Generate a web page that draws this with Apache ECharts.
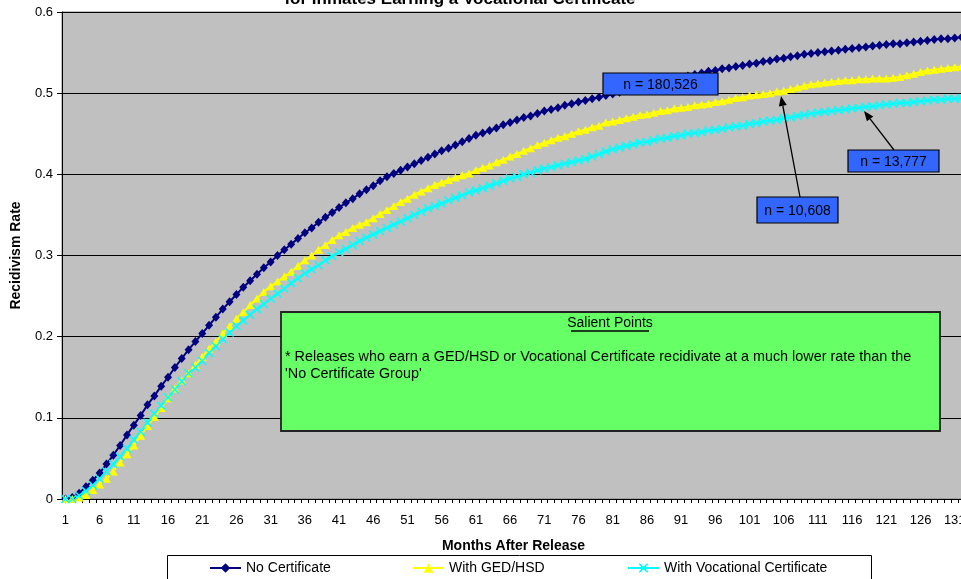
<!DOCTYPE html>
<html>
<head>
<meta charset="utf-8">
<script src="https://cdn.jsdelivr.net/npm/echarts@6/dist/echarts.min.js"></script>
<style>
  html, body { margin: 0; padding: 0; background: #fff; }
  #chart { width: 961px; height: 579px; }
</style>
</head>
<body>
<div id="chart"></div>
<script>
// Months after release (1..132)
const months = [];
for (let m = 1; m <= 132; m++) months.push(String(m));

// Cumulative recidivism rate by month
const noCertificate = [
  0, 0.002, 0.007, 0.015, 0.023, 0.032, 0.043, 0.054, 0.066, 0.079,
  0.091, 0.103, 0.116, 0.127, 0.139, 0.150, 0.162, 0.173, 0.184, 0.194,
  0.204, 0.214, 0.224, 0.234, 0.243, 0.252, 0.261, 0.269, 0.277, 0.285,
  0.292, 0.300, 0.307, 0.314, 0.321, 0.328, 0.334, 0.341, 0.347, 0.353,
  0.359, 0.365, 0.370, 0.376, 0.381, 0.386, 0.392, 0.397, 0.401, 0.405,
  0.409, 0.413, 0.417, 0.421, 0.425, 0.429, 0.432, 0.436, 0.440, 0.444,
  0.448, 0.451, 0.454, 0.457, 0.461, 0.464, 0.467, 0.470, 0.472, 0.475,
  0.478, 0.480, 0.482, 0.485, 0.487, 0.489, 0.491, 0.493, 0.495, 0.497,
  0.499, 0.501, 0.503, 0.505, 0.507, 0.509, 0.511, 0.513, 0.515, 0.517,
  0.519, 0.521, 0.523, 0.525, 0.527, 0.528, 0.530, 0.531, 0.533, 0.534,
  0.536, 0.537, 0.539, 0.540, 0.542, 0.543, 0.545, 0.546, 0.548, 0.549,
  0.550, 0.551, 0.552, 0.553, 0.554, 0.555, 0.556, 0.557, 0.558, 0.559,
  0.560, 0.561, 0.561, 0.562, 0.563, 0.564, 0.565, 0.566, 0.567, 0.567,
  0.568, 0.569
];
const withGedHsd = [
  0, 0, 0.002, 0.005, 0.011, 0.018, 0.025, 0.034, 0.045, 0.055,
  0.066, 0.078, 0.090, 0.101, 0.112, 0.124, 0.136, 0.146, 0.155, 0.165,
  0.175, 0.185, 0.194, 0.204, 0.213, 0.222, 0.230, 0.239, 0.247, 0.255,
  0.262, 0.268, 0.274, 0.280, 0.287, 0.294, 0.300, 0.307, 0.313, 0.319,
  0.325, 0.329, 0.334, 0.338, 0.341, 0.346, 0.351, 0.356, 0.361, 0.366,
  0.370, 0.375, 0.379, 0.383, 0.387, 0.390, 0.393, 0.396, 0.399, 0.401,
  0.405, 0.408, 0.411, 0.415, 0.418, 0.422, 0.425, 0.429, 0.432, 0.436,
  0.439, 0.442, 0.445, 0.447, 0.450, 0.453, 0.455, 0.458, 0.460, 0.464,
  0.465, 0.467, 0.469, 0.471, 0.473, 0.474, 0.476, 0.478, 0.479, 0.481,
  0.482, 0.483, 0.485, 0.486, 0.487, 0.489, 0.490, 0.492, 0.494, 0.495,
  0.497, 0.498, 0.499, 0.500, 0.502, 0.503, 0.505, 0.507, 0.509, 0.511,
  0.512, 0.513, 0.514, 0.515, 0.516, 0.516, 0.517, 0.517, 0.518, 0.518,
  0.518, 0.519, 0.520, 0.522, 0.524, 0.526, 0.528, 0.529, 0.530, 0.531,
  0.532, 0.533
];
const withVocational = [
  0, 0, 0.004, 0.010, 0.017, 0.025, 0.034, 0.043, 0.052, 0.062,
  0.073, 0.083, 0.094, 0.105, 0.115, 0.125, 0.135, 0.145, 0.155, 0.162,
  0.170, 0.180, 0.188, 0.197, 0.205, 0.213, 0.220, 0.227, 0.234, 0.240,
  0.247, 0.253, 0.259, 0.266, 0.272, 0.278, 0.283, 0.288, 0.294, 0.299,
  0.304, 0.308, 0.313, 0.318, 0.322, 0.326, 0.330, 0.334, 0.338, 0.342,
  0.346, 0.350, 0.354, 0.358, 0.361, 0.364, 0.368, 0.371, 0.374, 0.378,
  0.380, 0.383, 0.386, 0.389, 0.392, 0.395, 0.397, 0.400, 0.402, 0.405,
  0.407, 0.409, 0.411, 0.413, 0.415, 0.417, 0.419, 0.422, 0.425, 0.428,
  0.431, 0.433, 0.435, 0.437, 0.439, 0.440, 0.442, 0.444, 0.445, 0.447,
  0.448, 0.450, 0.451, 0.452, 0.454, 0.455, 0.456, 0.458, 0.459, 0.460,
  0.462, 0.463, 0.465, 0.466, 0.467, 0.469, 0.470, 0.472, 0.473, 0.475,
  0.476, 0.477, 0.478, 0.479, 0.480, 0.481, 0.482, 0.483, 0.484, 0.485,
  0.486, 0.487, 0.488, 0.488, 0.489, 0.490, 0.491, 0.492, 0.492, 0.493,
  0.493, 0.494
];

const seriesNames = ['No Certificate', 'With GED/HSD', 'With Vocational Certificate'];
const groupSizes = ['n = 180,526', 'n = 10,608', 'n = 13,777'];
const noteTitle = 'Salient Points';
const noteLines = [
  '* Releases who earn a GED/HSD or Vocational Certificate recidivate at a much lower rate than the',
  "'No Certificate Group'"
];

const FONT = 'Arial, "Liberation Sans", sans-serif';
const TOP_Z = 100;
const crossSymbol = 'path://M0,1.2L1.2,0L5,3.8L8.8,0L10,1.2L6.2,5L10,8.8L8.8,10L5,6.2L1.2,10L0,8.8L3.8,5Z';

function labelBox(x, y, w, h, text) {
  return [
    { type: 'rect', z: TOP_Z, shape: { x: x, y: y, width: w, height: h },
      style: { fill: '#3366FF', stroke: '#000', lineWidth: 1.2 } },
    { type: 'text', z: TOP_Z + 1, x: x + w / 2, y: y + h / 2 + 1,
      style: { text: text, font: '14px ' + FONT, fill: '#000', align: 'center', verticalAlign: 'middle' } }
  ];
}

function arrow(x1, y1, x2, y2) {
  const ang = Math.atan2(y2 - y1, x2 - x1);
  const len = 10, half = 4;
  const bx = x2 - len * Math.cos(ang), by = y2 - len * Math.sin(ang);
  const px = -Math.sin(ang) * half, py = Math.cos(ang) * half;
  return [
    { type: 'line', z: TOP_Z, shape: { x1: x1, y1: y1, x2: bx, y2: by }, style: { stroke: '#000', lineWidth: 1.3 } },
    { type: 'polygon', z: TOP_Z, shape: { points: [[x2, y2], [bx + px, by + py], [bx - px, by - py]] }, style: { fill: '#000' } }
  ];
}

const chart = echarts.init(document.getElementById('chart'), null, { renderer: 'canvas' });

function legendFor(name, left) {
  return {
    data: [name], left: left, top: 561, itemWidth: 31, itemHeight: 12, itemGap: 0,
    textStyle: { fontFamily: FONT, fontSize: 14, color: '#000' }, padding: 0
  };
}

chart.setOption({
  animation: false,
  backgroundColor: '#fff',
  grid: {
    left: 62, top: 12, bottom: 80, right: -4,
    containLabel: false, outerBoundsMode: 'none',
    show: true, backgroundColor: '#C0C0C0', borderColor: '#808080', borderWidth: 1
  },
  legend: [
    legendFor(seriesNames[0], 209),
    legendFor(seriesNames[1], 412),
    legendFor(seriesNames[2], 627)
  ],
  xAxis: {
    type: 'category', data: months, boundaryGap: true,
    name: 'Months After Release', nameLocation: 'middle', nameGap: 40,
    nameTextStyle: { fontFamily: FONT, fontSize: 14, fontWeight: 'bold', color: '#000' },
    axisLine: { lineStyle: { color: '#000', width: 1 } },
    axisTick: { show: true, interval: 0, length: 4, lineStyle: { color: '#000' } },
    axisLabel: { interval: 4, margin: 15, fontFamily: FONT, fontSize: 13, color: '#000' },
    splitLine: { show: false }
  },
  yAxis: {
    type: 'value', min: 0, max: 0.6, interval: 0.1,
    name: 'Recidivism Rate', nameLocation: 'middle', nameGap: 39, nameRotate: 90,
    nameTextStyle: { fontFamily: FONT, fontSize: 14, fontWeight: 'bold', color: '#000' },
    axisLine: { show: true, lineStyle: { color: '#000', width: 1 } },
    axisTick: { show: true, length: 5, lineStyle: { color: '#000' } },
    axisLabel: { margin: 9, fontFamily: FONT, fontSize: 13, color: '#000',
      formatter: v => String(Math.round(v * 10) / 10) },
    splitLine: { show: true, lineStyle: { color: '#000', width: 1 } }
  },
  series: [
    { name: seriesNames[0], type: 'line', data: noCertificate,
      symbol: 'diamond', symbolSize: [8, 9], showSymbol: true, showAllSymbol: true,
      lineStyle: { color: '#000080', width: 2 }, itemStyle: { color: '#000080' } },
    { name: seriesNames[1], type: 'line', data: withGedHsd,
      symbol: 'triangle', symbolSize: [9, 8], showSymbol: true, showAllSymbol: true,
      lineStyle: { color: '#FFFF00', width: 2 }, itemStyle: { color: '#FFFF00' } },
    { name: seriesNames[2], type: 'line', data: withVocational,
      symbol: crossSymbol, symbolSize: 9, showSymbol: true, showAllSymbol: true,
      lineStyle: { color: '#00FFFF', width: 2 }, itemStyle: { color: '#00FFFF' } }
  ],
  graphic: [
    { type: 'text', x: 460, y: -9, z: 50,
      style: { text: 'for Inmates Earning a Vocational Certificate', font: 'bold 17px ' + FONT, fill: '#000',
        align: 'center', verticalAlign: 'top' } },
    { type: 'rect', z: 0, shape: { x: 167.5, y: 555.5, width: 704, height: 40 },
      style: { fill: '#fff', stroke: '#000', lineWidth: 1 } },
    { type: 'rect', z: TOP_Z - 5, shape: { x: 281, y: 312, width: 659, height: 119 },
      style: { fill: '#66FF66', stroke: '#222', lineWidth: 1.8 } },
    { type: 'text', z: TOP_Z - 4, x: 610, y: 323,
      style: { text: noteTitle, font: '14px ' + FONT, fill: '#000', align: 'center', verticalAlign: 'middle' } },
    { type: 'line', z: TOP_Z - 4, shape: { x1: 571, y1: 331, x2: 649, y2: 331 }, style: { stroke: '#000', lineWidth: 1.3 } },
    { type: 'text', z: TOP_Z - 4, x: 285, y: 357,
      style: { text: noteLines[0], font: '14.4px ' + FONT, fill: '#000', align: 'left', verticalAlign: 'middle' } },
    { type: 'text', z: TOP_Z - 4, x: 285, y: 374,
      style: { text: noteLines[1], font: '14.4px ' + FONT, fill: '#000', align: 'left', verticalAlign: 'middle' } },
    ...labelBox(603, 73, 115, 22, groupSizes[0]),
    ...arrow(800, 197, 781, 96),
    ...labelBox(757, 197, 81, 26, groupSizes[1]),
    ...arrow(894, 150, 864, 111),
    ...labelBox(848, 150, 91, 22, groupSizes[2])
  ]
});
</script>
</body>
</html>
